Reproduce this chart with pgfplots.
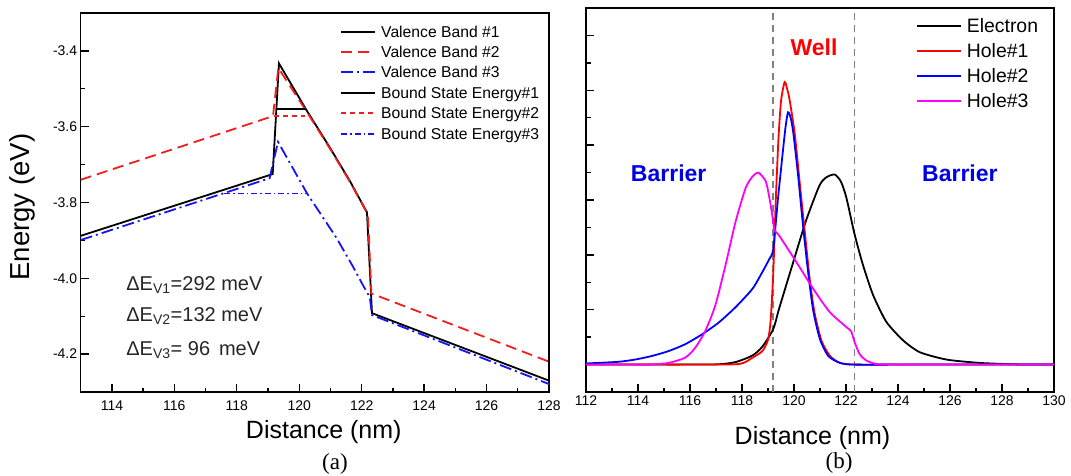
\documentclass[border=0pt]{standalone}
\usepackage{fontspec}
\setmainfont{Liberation Sans}
\newfontfamily\seriffont{Liberation Serif}
\usepackage{pgfplots}
\pgfplotsset{compat=1.18}
\definecolor{vred}{RGB}{240,30,30}
\definecolor{vblue}{RGB}{20,20,245}
\definecolor{hmag}{RGB}{255,0,255}
\definecolor{txtblue}{RGB}{0,0,230}

\pgfplotsset{
  panel/.style={
    scale only axis,
    tick align=inside, tick pos=left,
    major tick length=8pt, minor tick length=4.5pt,
    axis line style={line width=1.6pt},
    every tick/.style={line width=1.3pt, black},
    ticklabel style={font=\fontsize{14}{16}\selectfont},
    /pgf/number format/assume math mode=true,
  },
}
% styles shared by curves and legend swatches
\tikzset{
  vb1/.style={color=black, line width=1.8pt},
  vb2/.style={color=vred, line width=1.8pt, dash pattern=on 11pt off 6pt},
  vb3/.style={color=vblue, line width=1.8pt, dash pattern=on 12pt off 4pt on 2pt off 4pt},
  bs1/.style={color=black, line width=1.4pt},
  bs2/.style={color=vred, line width=1.6pt, dash pattern=on 5pt off 4pt},
  bs3/.style={color=vblue, line width=1.5pt, dash pattern=on 6pt off 3pt on 1.5pt off 3pt},
  wf/.style={line width=1.8pt},
  sw/.style={line width=2pt},
  legA/.style={anchor=base west, inner sep=0pt, font=\fontsize{15.7}{18}\selectfont},
  legB/.style={anchor=base west, inner sep=0pt, font=\fontsize{19.4}{22}\selectfont},
}

\begin{document}
\begin{tikzpicture}
\path[use as bounding box] (0,0) rectangle (1071pt,-476pt);

% ---------------- (a) valence band profiles ----------------
\begin{axis}[panel, name=pa,
  at={(80.7pt,-392pt)}, anchor=south west,
  width=468.3pt, height=379pt,
  xmin=113, xmax=128, ymin=-4.3, ymax=-3.3,
  xtick={114,116,118,120,122,124,126,128},
  ytick={-4.2,-4,-3.8,-3.6,-3.4},
  minor x tick num=1, minor y tick num=1,
  yticklabel style={/pgf/number format/fixed, /pgf/number format/fixed zerofill,
    /pgf/number format/precision=1},
  xticklabel style={yshift=-5pt},
  xlabel={Distance (nm)}, ylabel={Energy (eV)},
  xlabel style={font=\fontsize{25}{28}\selectfont, at={(axis description cs:0.519,-0.1055)}, anchor=center},
  ylabel style={font=\fontsize{27.5}{30}\selectfont, at={(axis description cs:-0.125,0.488)}, anchor=center},
]
\addplot[vb1] coordinates {
  (113,-3.888) (119.15,-3.725) (119.35,-3.433) (120.23,-3.556) (120.98,-3.655)
  (121.62,-3.743) (122.17,-3.826) (122.33,-4.092) (128,-4.270)};
\addplot[vb2] coordinates {
  (113,-3.740) (119.16,-3.572) (119.33,-3.445) (120.25,-3.562) (121.0,-3.660)
  (121.64,-3.748) (122.2,-3.832) (122.31,-4.040) (128,-4.220)};
\addplot[vb3] coordinates {
  (113,-3.899) (119.05,-3.736) (119.32,-3.640) (120.25,-3.776) (121.19,-3.893)
  (121.72,-3.969) (122.04,-4.018) (122.26,-4.050) (122.33,-4.097) (128,-4.279)};
\addplot[bs1] coordinates {(119.27,-3.553) (120.2,-3.553)};
\addplot[bs2] coordinates {(119.2,-3.572) (120.18,-3.572)};
\addplot[bs3] coordinates {(117.6,-3.776) (120.25,-3.776)};

\node[anchor=base west, font=\fontsize{20}{22}\selectfont, text=black!85] at (axis cs:114.35,-4.032) {ΔE\textsubscript{V1}=292 meV};
\node[anchor=base west, font=\fontsize{20}{22}\selectfont, text=black!85] at (axis cs:114.35,-4.114) {ΔE\textsubscript{V2}=132 meV};
\node[anchor=base west, font=\fontsize{20}{22}\selectfont, text=black!85] at (axis cs:114.35,-4.204) {ΔE\textsubscript{V3}= 96\, meV};
\end{axis}
\node[font=\seriffont\fontsize{23}{26}\selectfont] at (335pt,-464pt) {(a)};

% legend of (a)
\draw[vb1, sw] (341pt,-32pt) -- (375pt,-32pt);
\node[legA] at (381pt,-37.6pt) {Valence Band \#1};
\draw[vb2, sw] (341pt,-52pt) -- (375pt,-52pt);
\node[legA] at (381pt,-57.6pt) {Valence Band \#2};
\draw[vb3, sw] (341pt,-72pt) -- (375pt,-72pt);
\node[legA] at (381pt,-77.6pt) {Valence Band \#3};
\draw[bs1, sw] (341pt,-93pt) -- (375pt,-93pt);
\node[legA] at (381pt,-98.6pt) {Bound State Energy\#1};
\draw[bs2, sw] (341pt,-113pt) -- (375pt,-113pt);
\node[legA] at (381pt,-118.6pt) {Bound State Energy\#2};
\draw[bs3, sw] (341pt,-134pt) -- (375pt,-134pt);
\node[legA] at (381pt,-139.6pt) {Bound State Energy\#3};

% ---------------- (b) wavefunctions ----------------
\begin{axis}[panel, name=pb,
  at={(586pt,-392pt)}, anchor=south west,
  width=468pt, height=384pt,
  xmin=112, xmax=130, ymin=-0.1, ymax=1.3,
  xtick={112,114,...,130},
  ytick={0,0.2,0.4,0.6,0.8,1.0,1.2}, yticklabels={},
  minor x tick num=1, minor y tick num=1,
  xlabel={Distance (nm)},
  xlabel style={font=\fontsize{25}{28}\selectfont, at={(axis description cs:0.484,-0.12)}, anchor=center},
]
\addplot[color=gray, line width=1.5pt, dash pattern=on 7pt off 5pt] coordinates {(119.19,-0.1) (119.19,1.3)};
\addplot[color=gray, line width=1.5pt, dash pattern=on 7pt off 5pt] coordinates {(122.33,-0.1) (122.33,1.3)};

% Electron
\addplot[wf, color=black, smooth, tension=0.4] coordinates {
  (112,0) (114,0) (116,0) (117.1,0.001) (117.75,0.009) (118.4,0.033) (118.78,0.065)
  (119.2,0.129) (119.43,0.205) (119.94,0.364) (120.46,0.524) (120.98,0.653)
  (121.25,0.683) (121.56,0.693) (121.8,0.668) (122.01,0.61) (122.33,0.475)
  (122.65,0.364) (123.04,0.254) (123.55,0.156) (124.2,0.088) (124.84,0.045)
  (125.88,0.018) (127.16,0.006) (128.45,0.001) (129.2,0) (130,0)};
% Hole#1
\addplot[wf, color=red, smooth, tension=0.4] coordinates {
  (112,0) (114,0) (116,0) (117.88,0.002) (118.4,0.025) (118.78,0.049) (119.0,0.09) (119.1,0.16)
  (119.2,0.33) (119.3,0.6) (119.4,0.82) (119.5,0.96) (119.64,1.03) (119.75,1.0)
  (119.84,0.96) (120.03,0.84) (120.22,0.663) (120.42,0.479) (120.61,0.307)
  (120.8,0.184) (121.06,0.086) (121.39,0.031) (121.77,0.006) (122.3,0) (124,0)
  (126,0) (128,0) (130,0)};
% Hole#2
\addplot[wf, color=blue, smooth, tension=0.4] coordinates {
  (112,0.004) (113.23,0.01) (113.87,0.018) (114.52,0.031) (115.17,0.049)
  (115.81,0.074) (116.46,0.11) (117.1,0.153) (117.75,0.209) (118.4,0.276)
  (118.78,0.337) (119.05,0.385) (119.2,0.42) (119.38,0.601) (119.58,0.785)
  (119.68,0.87) (119.77,0.92) (119.87,0.9) (119.97,0.847) (120.16,0.687)
  (120.35,0.503) (120.55,0.331) (120.74,0.196) (121.0,0.092) (121.32,0.031)
  (121.77,0.006) (122.3,0) (124,0) (126,0) (128,0) (130,0)};
% Hole#3
\addplot[wf, color=hmag, smooth, tension=0.4] coordinates {
  (112,0) (113.5,0) (114.5,0) (115.17,0.006) (115.81,0.025) (116.2,0.061) (116.59,0.123)
  (116.97,0.215) (117.36,0.36) (117.75,0.52) (118.14,0.644) (118.4,0.685)
  (118.63,0.70) (118.91,0.669) (119.05,0.61) (119.17,0.54) (119.25,0.49)
  (119.43,0.47) (120.07,0.377) (120.72,0.279) (121.36,0.193) (122.01,0.137)
  (122.2,0.121) (122.33,0.082) (122.52,0.039) (122.78,0.015) (123.17,0.002)
  (123.8,0) (125,0) (126.5,0) (128,0) (130,0)};

\node[font=\bfseries\fontsize{23}{26}\selectfont, text=red] at (axis cs:120.77,1.156) {Well};
\node[font=\bfseries\fontsize{23}{26}\selectfont, text=txtblue] at (axis cs:115.18,0.697) {Barrier};
\node[font=\bfseries\fontsize{23}{26}\selectfont, text=txtblue] at (axis cs:126.38,0.697) {Barrier};
\end{axis}
\node[font=\seriffont\fontsize{23}{26}\selectfont] at (839pt,-463pt) {(b)};

% legend of (b)
\draw[wf, sw, color=black] (916.6pt,-26pt) -- (961pt,-26pt);
\node[legB] at (966.7pt,-32.9pt) {Electron};
\draw[wf, sw, color=red] (916.6pt,-51pt) -- (961pt,-51pt);
\node[legB] at (966.7pt,-57.9pt) {Hole\#1};
\draw[wf, sw, color=blue] (916.6pt,-76pt) -- (961pt,-76pt);
\node[legB] at (966.7pt,-82.9pt) {Hole\#2};
\draw[wf, sw, color=hmag] (916.6pt,-101pt) -- (961pt,-101pt);
\node[legB] at (966.7pt,-107.9pt) {Hole\#3};
\end{tikzpicture}
\end{document}
